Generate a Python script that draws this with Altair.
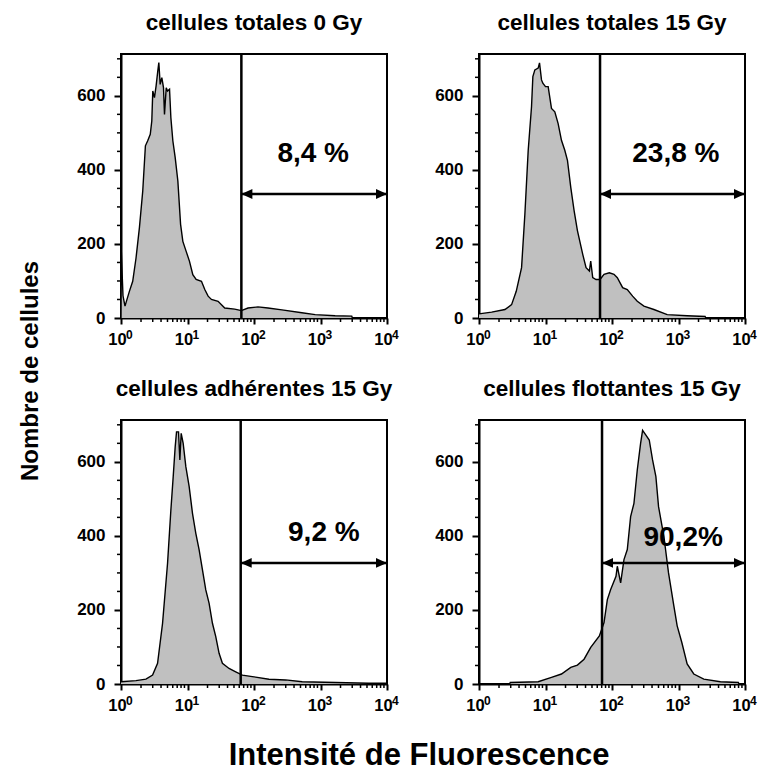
import altair as alt
import pandas as pd

FONT = "Liberation Sans"
FILL = "#c0c0c0"
W, H = 266, 264
Y_MAX = 713

TITLES = ["cellules totales 0 Gy", "cellules totales 15 Gy",
          "cellules adhérentes 15 Gy", "cellules flottantes 15 Gy"]
PCT = ["8,4 %", "23,8 %", "9,2 %", "90,2%"]
PCT_X = [2.89, 2.96, 3.05, 3.07]
PCT_Y = [443, 443, 408, 395]
GATE = [1.81, 1.82, 1.80, 1.85]
ARROW_Y = [335, 335, 327, 327]
X_END = 4.0

X_MAJOR = [0, 1, 2, 3, 4]
X_EXP = ["0", "1", "2", "3", "4"]
Y_MAJOR = [0, 200, 400, 600]
Y_MINOR = [50, 100, 150, 250, 300, 350, 450, 500, 550, 650, 700]
X_MINOR = [0.301, 0.477, 0.602, 0.699, 0.778, 0.845, 0.903, 0.954,
           1.301, 1.477, 1.602, 1.699, 1.778, 1.845, 1.903, 1.954,
           2.301, 2.477, 2.602, 2.699, 2.778, 2.845, 2.903, 2.954,
           3.301, 3.477, 3.602, 3.699, 3.778, 3.845, 3.903, 3.954]

# panel 1: cellules totales 0 Gy (log10 intensity, count)
LOG1 = [0.0, 0.005, 0.03, 0.06, 0.126, 0.176, 0.226, 0.277, 0.327, 0.367, 0.40, 0.44,
        0.463, 0.478, 0.503, 0.528, 0.553, 0.569, 0.589, 0.614, 0.639, 0.654, 0.68,
        0.70, 0.73, 0.75, 0.78, 0.815, 0.855, 0.896, 0.93, 0.98, 1.03, 1.08, 1.13,
        1.21, 1.26, 1.31, 1.36, 1.46, 1.56, 1.71, 1.81, 1.91, 2.06, 2.21, 2.42,
        2.72, 2.92, 3.22, 3.47, 3.48]
CNT1 = [0, 178, 60, 32, 72, 99, 162, 244, 343, 465, 478, 496,
        532, 613, 595, 627, 667, 690, 631, 649, 622, 550, 622,
        613, 618, 541, 478, 433, 370, 253, 207, 180, 153, 117, 104,
        99, 77, 59, 50, 45, 27, 24, 20, 27, 30, 27, 22,
        14, 9, 6, 5, 0]

# panel 2: cellules totales 15 Gy
LOG2 = [0.0, 0.19, 0.39, 0.49, 0.56, 0.64, 0.69, 0.74, 0.79, 0.81, 0.84, 0.89, 0.91,
        0.94, 0.96, 1.0, 1.04, 1.09, 1.14, 1.19, 1.24, 1.29, 1.33, 1.38, 1.43, 1.48,
        1.56, 1.61, 1.66, 1.68, 1.71, 1.76, 1.82, 1.88, 1.96, 2.03, 2.08, 2.16, 2.23,
        2.31, 2.38, 2.48, 2.63, 2.83, 3.13, 3.40, 3.41]
CNT2 = [11, 16, 23, 36, 72, 136, 281, 453, 571, 652, 670, 675, 689,
        643, 634, 625, 625, 566, 557, 525, 480, 453, 426, 353, 290, 236,
        172, 136, 127, 154, 109, 104, 104, 118, 122, 118, 109, 82, 77,
        59, 45, 32, 23, 9, 6, 4, 0]

# panel 3: cellules adhérentes 15 Gy
LOG3 = [0.0, 0.225, 0.375, 0.475, 0.55, 0.625, 0.70, 0.75, 0.785, 0.815, 0.835, 0.865,
        0.885, 0.905, 0.935, 0.975, 1.025, 1.075, 1.125, 1.175, 1.225, 1.275, 1.325,
        1.375, 1.425, 1.475, 1.525, 1.625, 1.725, 1.825, 1.975, 2.225, 2.475, 2.725,
        3.225, 3.725, 4.0]
CNT3 = [6, 9, 13, 24, 56, 164, 326, 470, 560, 641, 681, 681,
        605, 677, 650, 587, 533, 461, 407, 362, 308, 254, 218,
        164, 128, 83, 56, 42, 33, 24, 20, 13, 11, 6,
        4, 2, 2]

# panel 4: cellules flottantes 15 Gy
LOG4 = [0.46, 0.47, 0.89, 1.09, 1.24, 1.38, 1.48, 1.58, 1.68, 1.81, 1.88, 1.93, 1.98,
        2.06, 2.08, 2.13, 2.18, 2.23, 2.28, 2.33, 2.38, 2.43, 2.46, 2.51, 2.56, 2.61,
        2.66, 2.70, 2.78, 2.85, 2.93, 2.98, 3.05, 3.13, 3.23, 3.38, 3.63, 3.90, 3.91]
CNT4 = [0, 4, 6, 18, 27, 45, 51, 67, 99, 130, 166, 228, 255,
        291, 318, 273, 336, 363, 452, 488, 578, 650, 685, 672, 659, 605,
        560, 479, 399, 300, 211, 157, 112, 54, 27, 13, 6, 4, 0]

LOGS = [LOG1, LOG2, LOG3, LOG4]
CNTS = [CNT1, CNT2, CNT3, CNT4]

Y_TITLE = "Nombre de cellules"
X_TITLE = "Intensité de Fluorescence"

LEFT_HEAD = "M0,0L2,-0.9L2,0.9Z"
RIGHT_HEAD = "M0,0L-2,-0.9L-2,0.9Z"

xsc = alt.Scale(domain=[0, 4], nice=False, zero=False)
ysc = alt.Scale(domain=[0, Y_MAX], nice=False, zero=True)
XAX = alt.Axis(values=X_MAJOR, labelExpr="'10'", title=None, grid=False,
               domainColor="black", domainWidth=2, tickColor="black",
               tickWidth=2, tickSize=6, labelFont=FONT, labelFontSize=16.5,
               labelFontWeight="bold", labelColor="black", labelOffset=-4,
               labelPadding=7, labelFlush=False, labelOverlap=False)
YAX = alt.Axis(values=Y_MAJOR, title=None, grid=False, domainColor="black",
               domainWidth=2, tickColor="black", tickWidth=2, tickSize=7,
               labelFont=FONT, labelFontSize=17, labelFontWeight="bold",
               labelColor="black", labelPadding=9, labelFlush=False,
               labelOverlap=False)


def X(f):
    return alt.X(f, scale=xsc, axis=XAX)


def Y(f):
    return alt.Y(f, scale=ysc, axis=YAX)


def make_panel(i, extra=None):
    curve = pd.DataFrame({"x": LOGS[i], "y": CNTS[i]})
    area = alt.Chart(curve).mark_area(
        color=FILL, opacity=1, line={"color": "black", "strokeWidth": 1.4}
    ).encode(x=X("x:Q"), y=Y("y:Q"))
    info = pd.DataFrame({"g": [GATE[i]], "end": [X_END], "ay": [ARROW_Y[i]],
                         "lx": [PCT_X[i]], "ly": [PCT_Y[i]], "lab": [PCT[i]]})
    ib = alt.Chart(info)
    gate = ib.mark_rule(color="black", strokeWidth=2.5).encode(x=X("g:Q"))
    arrow = ib.mark_rule(color="black", strokeWidth=2.5).encode(
        x=X("g:Q"), x2="end:Q", y=Y("ay:Q"))
    head_l = ib.mark_point(shape=LEFT_HEAD, size=121, filled=True, color="black",
                           opacity=1, strokeWidth=0).encode(x=X("g:Q"), y=Y("ay:Q"))
    head_r = ib.mark_point(shape=RIGHT_HEAD, size=121, filled=True, color="black",
                           opacity=1, strokeWidth=0).encode(x=X("end:Q"), y=Y("ay:Q"))
    label = ib.mark_text(font=FONT, fontSize=28, fontWeight="bold", color="black",
                         baseline="middle").encode(
        x=X("lx:Q"), y=Y("ly:Q"), text="lab:N")
    minx = alt.Chart(pd.DataFrame({"m": X_MINOR})).mark_rule(
        color="black", strokeWidth=1.5).encode(
        x=X("m:Q"), y=alt.value(H), y2=alt.value(H + 4))
    miny = alt.Chart(pd.DataFrame({"m": Y_MINOR})).mark_rule(
        color="black", strokeWidth=1.5).encode(
        y=Y("m:Q"), x=alt.value(0), x2=alt.value(-4))
    exps = alt.Chart(pd.DataFrame({"p": X_MAJOR, "e": X_EXP})).mark_text(
        font=FONT, fontSize=12, fontWeight="bold", color="black", align="left",
        baseline="alphabetic", dx=5).encode(
        x=X("p:Q"), y=alt.value(H + 21), text="e:N")
    layers = [area, gate, arrow, head_l, head_r, label, minx, miny, exps]
    if extra is not None:
        layers += extra
    return alt.layer(*layers).properties(
        width=W, height=H,
        title=alt.TitleParams(TITLES[i], font=FONT, fontSize=22.5, fontWeight="bold",
                              color="black", anchor="middle", offset=18))


ytitle = alt.Chart(pd.DataFrame({"t": [Y_TITLE]})).mark_text(
    font=FONT, fontSize=24, fontWeight="bold", color="black", angle=270,
    baseline="middle", align="center").encode(
    x=alt.value(-90), y=alt.value(317), text="t:N")
xtitle = alt.Chart(pd.DataFrame({"t": [X_TITLE]})).mark_text(
    font=FONT, fontSize=31, fontWeight="bold", color="black",
    baseline="alphabetic", align="center").encode(
    x=alt.value(298), y=alt.value(345), text="t:N")

p1 = make_panel(0, [ytitle])
p2 = make_panel(1)
p3 = make_panel(2, [xtitle])
p4 = make_panel(3)

chart = alt.concat(p1, p2, p3, p4, columns=2, bounds="flush",
                   spacing={"row": 102, "column": 92}).properties(
    padding={"left": 18, "top": 11, "right": 5, "bottom": 5},
    background="white",
).configure_view(stroke="black", strokeWidth=2)

chart.save("out.html", embed_options={"renderer": "svg", "actions": False})
